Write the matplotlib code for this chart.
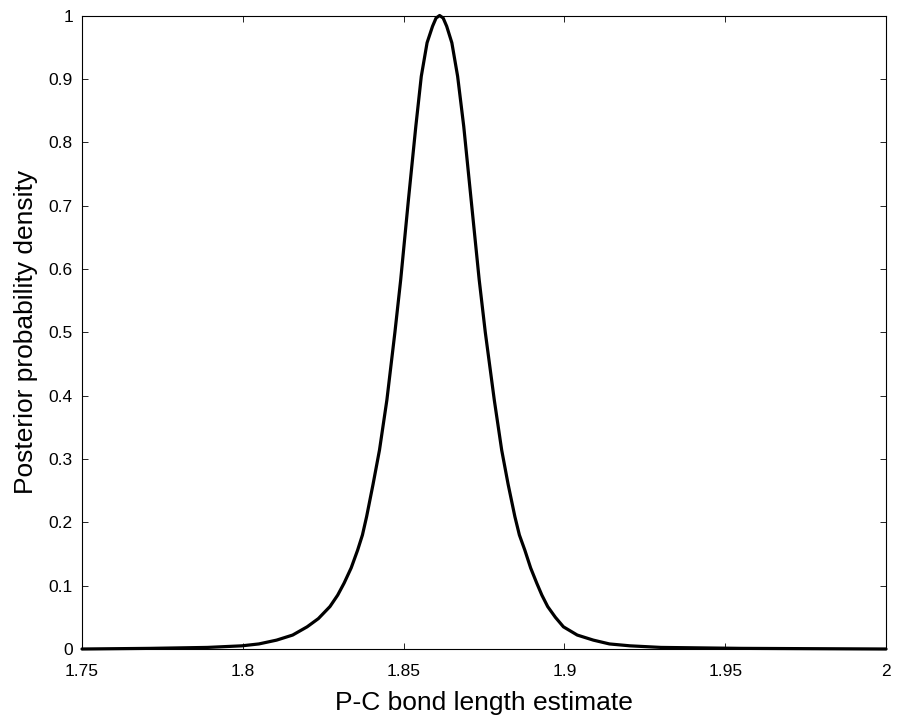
import matplotlib
matplotlib.use("Agg")
import matplotlib.pyplot as plt

bond_length = [1.7500, 1.7711, 1.7890, 1.7997, 1.8050, 1.8105, 1.8155, 1.8200,
               1.8235, 1.8271, 1.8295, 1.8315, 1.8337, 1.8357, 1.8372, 1.8385,
               1.8405, 1.8425, 1.8448, 1.8473, 1.8491, 1.8515, 1.8538, 1.8555,
               1.8573, 1.8590, 1.8601, 1.8612, 1.8623, 1.8634, 1.8650, 1.8668,
               1.8687, 1.8710, 1.8735, 1.8754, 1.8782, 1.8805, 1.8825, 1.8846,
               1.8860, 1.8877, 1.8895, 1.8914, 1.8930, 1.8948, 1.8972, 1.8997,
               1.9040, 1.9090, 1.9140, 1.9204, 1.9300, 1.9550, 2.0000]
density = [0.000, 0.001, 0.0025, 0.005, 0.008, 0.014, 0.022, 0.035,
           0.048, 0.067, 0.085, 0.104, 0.128, 0.156, 0.180, 0.209,
           0.260, 0.314, 0.393, 0.500, 0.583, 0.709, 0.825, 0.904,
           0.957, 0.983, 0.996, 1.000, 0.996, 0.983, 0.957, 0.904,
           0.825, 0.709, 0.583, 0.500, 0.393, 0.314, 0.260, 0.209,
           0.180, 0.156, 0.128, 0.104, 0.085, 0.067, 0.050, 0.035,
           0.022, 0.014, 0.008, 0.005, 0.0025, 0.001, 0.000]

x_ticks = [1.75, 1.8, 1.85, 1.9, 1.95, 2.0]
x_tick_labels = ["1.75", "1.8", "1.85", "1.9", "1.95", "2"]
y_ticks = [0, 0.1, 0.2, 0.3, 0.4, 0.5, 0.6, 0.7, 0.8, 0.9, 1.0]
y_tick_labels = ["0", "0.1", "0.2", "0.3", "0.4", "0.5", "0.6", "0.7", "0.8", "0.9", "1"]

plt.rcParams['font.family'] = ['Liberation Sans', 'DejaVu Sans']

fig = plt.figure(figsize=(8.99, 7.2), dpi=100)
ax = fig.add_axes([82/899, 71/720, (886-82)/899, (649-15.5)/720])

ax.plot(bond_length, density, color='black', linewidth=2.3, clip_on=False,
        solid_joinstyle='round', solid_capstyle='round')

ax.set_xlim(1.75, 2.0)
ax.set_ylim(0, 1)
ax.set_xticks(x_ticks)
ax.set_xticklabels(x_tick_labels)
ax.set_yticks(y_ticks)
ax.set_yticklabels(y_tick_labels)
ax.tick_params(direction='in', length=4.5, width=0.6, labelsize=12.5,
               top=True, right=True)
ax.tick_params(axis='x', pad=10.5)
ax.tick_params(axis='y', pad=6.5)
for s in ax.spines.values():
    s.set_linewidth(0.8)

ax.set_xlabel("P-C bond length estimate", fontsize=19, labelpad=9)
ax.set_ylabel("Posterior probability density", fontsize=19, labelpad=8)

fig.savefig("out.png", dpi=100)
